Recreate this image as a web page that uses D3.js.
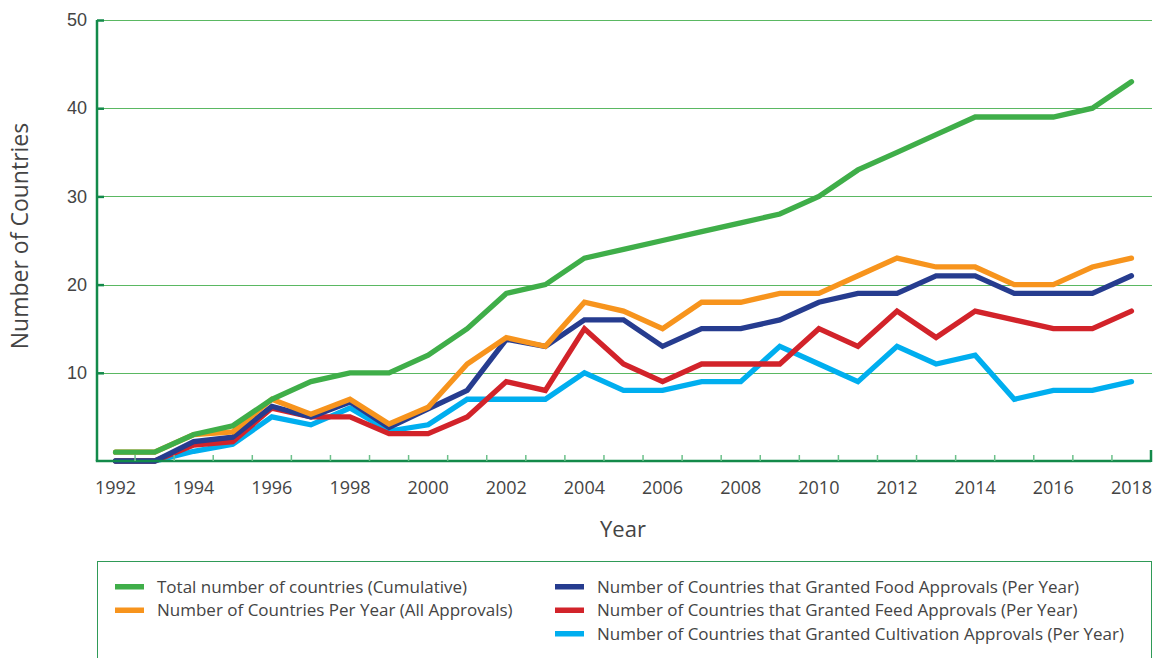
<!DOCTYPE html>
<html>
<head>
<meta charset="utf-8">
<script src="https://cdn.jsdelivr.net/npm/d3@7"></script>
<style>
	body { margin: 0; background: #fff; }
	svg { display: block; font-family: "Open Sans", sans-serif; }
</style>
</head>
<body>
<svg id="chart" width="1156" height="658"></svg>
<script>
const years = d3.range(1992, 2019);

const totalCumulative = [1, 1, 3, 4, 7, 9, 10, 10, 12, 15, 19, 20, 23, 24, 25, 26, 27, 28, 30, 33, 35, 37, 39, 39, 39, 40, 43];
const allApprovals    = [1, 1, 3, 3.3, 7, 5.3, 7, 4.2, 6.1, 11, 14, 13, 18, 17, 15, 18, 18, 19, 19, 21, 23, 22, 22, 20, 20, 22, 23];
const foodApprovals   = [0, 0, 2.2, 2.7, 6.2, 5, 6.7, 3.8, 5.9, 8, 13.8, 13, 16, 16, 13, 15, 15, 16, 18, 19, 19, 21, 21, 19, 19, 19, 21];
const feedApprovals   = [0, 0, 1.8, 2.2, 6, 5, 5, 3.1, 3.1, 5, 9, 8, 15, 11, 9, 11, 11, 11, 15, 13, 17, 14, 17, 16, 15, 15, 17];
const cultivationApprovals = [0, 0, 1.1, 1.9, 5, 4.1, 6, 3.4, 4.1, 7, 7, 7, 10, 8, 8, 9, 9, 13, 11, 9, 13, 11, 12, 7, 8, 8, 9];

const yTicks = [10, 20, 30, 40, 50];
const xTickLabels = years.filter(y => y % 2 === 0);

// Legend order; drawn in reverse so the first series sits on top
const series = [
	{ name: "Total number of countries (Cumulative)", values: totalCumulative, color: "#3fae49", col: 0, row: 0 },
	{ name: "Number of Countries Per Year (All Approvals)", values: allApprovals, color: "#f7941d", col: 0, row: 1 },
	{ name: "Number of Countries that Granted Food Approvals (Per Year)", values: foodApprovals, color: "#263c8f", col: 1, row: 0 },
	{ name: "Number of Countries that Granted Feed Approvals (Per Year)", values: feedApprovals, color: "#d2232a", col: 1, row: 1 },
	{ name: "Number of Countries that Granted Cultivation Approvals (Per Year)", values: cultivationApprovals, color: "#00aeef", col: 1, row: 2 },
];

const svg = d3.select("#chart");
const margin = { left: 97, top: 20, right: 5, bottom: 197 };
const width = 1156, height = 658;
const plotBottom = height - margin.bottom;

const xBand = d3.scaleBand().domain(years).range([96, 1151]).padding(0);
const x = year => xBand(year) + xBand.bandwidth() / 2;
const y = d3.scaleLinear().domain([0, 50]).range([plotBottom, margin.top]);

const axisGreen = "#138a4a";
const textColor = "#444";

// Horizontal gridlines
svg.append("g")
	.selectAll("line")
	.data(yTicks)
	.join("line")
	.attr("x1", margin.left)
	.attr("x2", 1152)
	.attr("y1", d => Math.round(y(d)) + .5)
	.attr("y2", d => Math.round(y(d)) + .5)
	.attr("stroke", "#5ab862")
	.attr("stroke-width", 1.2);

// Lines
const line = d3.line()
	.x((d, i) => x(years[i]))
	.y(d => y(d));

svg.append("g")
	.selectAll("path")
	.data(series.slice().reverse())
	.join("path")
	.attr("d", s => line(s.values))
	.attr("fill", "none")
	.attr("stroke", s => s.color)
	.attr("stroke-width", 5.3)
	.attr("stroke-linecap", "round")
	.attr("stroke-linejoin", "miter");

// Y axis
const yAxis = svg.append("g")
	.attr("transform", `translate(${margin.left},0)`)
	.call(d3.axisLeft(y).tickValues(yTicks).tickSize(-7).tickPadding(10).tickFormat(d3.format("d")));
yAxis.select(".domain").attr("stroke", axisGreen).attr("stroke-width", 2.5)
	.attr("d", `M0,${plotBottom}V${margin.top}`);
yAxis.selectAll(".tick line").attr("stroke", axisGreen).attr("stroke-width", 2.5);
yAxis.selectAll(".tick text").attr("fill", textColor).style("font-size", "18px");

// X axis line and ticks at category boundaries
svg.append("line")
	.attr("x1", margin.left - 1.2)
	.attr("x2", 1151)
	.attr("y1", plotBottom)
	.attr("y2", plotBottom)
	.attr("stroke", axisGreen)
	.attr("stroke-width", 2.5);

svg.append("g")
	.selectAll("line")
	.data(years.slice(1))
	.join("line")
	.attr("x1", d => xBand(d))
	.attr("x2", d => xBand(d))
	.attr("y1", plotBottom)
	.attr("y2", plotBottom - 6)
	.attr("stroke", "#6cc08a")
	.attr("stroke-width", 1.5);

svg.append("line")
	.attr("x1", 1151)
	.attr("x2", 1151)
	.attr("y1", plotBottom + 1)
	.attr("y2", plotBottom - 11)
	.attr("stroke", axisGreen)
	.attr("stroke-width", 2.5);

svg.append("g")
	.selectAll("text")
	.data(xTickLabels)
	.join("text")
	.attr("x", d => x(d))
	.attr("y", plotBottom + 33)
	.attr("text-anchor", "middle")
	.attr("fill", textColor)
	.style("font-size", "18px")
	.text(d => d);

// Axis titles
svg.append("text")
	.attr("x", 623)
	.attr("y", 537)
	.attr("text-anchor", "middle")
	.attr("fill", textColor)
	.style("font-size", "22px")
	.text("Year");

svg.append("text")
	.attr("transform", `translate(28, 236) rotate(-90)`)
	.attr("text-anchor", "middle")
	.attr("fill", textColor)
	.style("font-size", "23px")
	.text("Number of Countries");

// Legend
svg.append("rect")
	.attr("x", 97.5)
	.attr("y", 561.5)
	.attr("width", 1054)
	.attr("height", 120)
	.attr("fill", "none")
	.attr("stroke", "#2f9a57")
	.attr("stroke-width", 1);

const legendCols = [115, 555];
const legend = svg.append("g")
	.selectAll("g")
	.data(series)
	.join("g")
	.attr("transform", s => `translate(${legendCols[s.col]}, ${587 + s.row * 23.5})`);

legend.append("rect")
	.attr("x", 0)
	.attr("y", -3)
	.attr("width", 29)
	.attr("height", 5.5)
	.attr("fill", s => s.color);

legend.append("text")
	.attr("x", 42)
	.attr("y", 0)
	.attr("dy", "0.35em")
	.attr("fill", textColor)
	.style("font-size", "17px")
	.text(s => s.name);
</script>
</body>
</html>
